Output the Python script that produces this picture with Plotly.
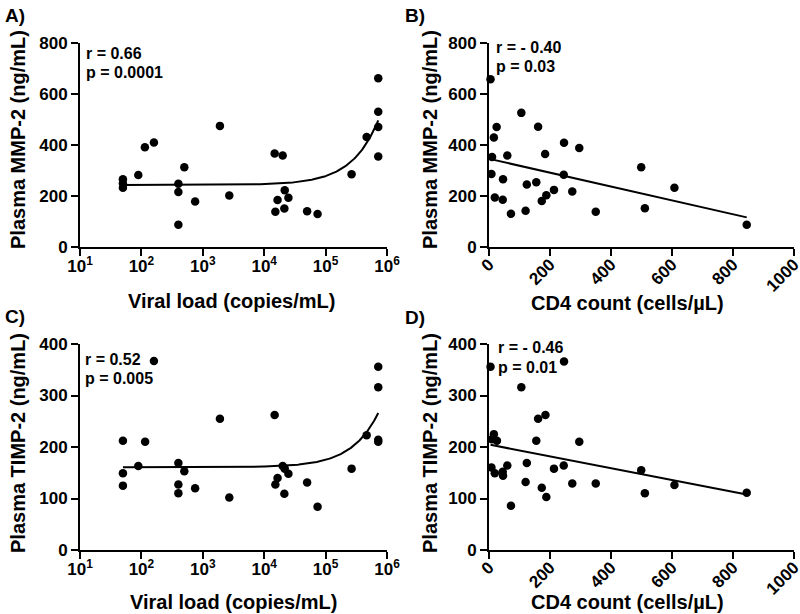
import numpy as np
import plotly.graph_objects as go

# ---------------- data ----------------
# Panel A: viral load vs plasma MMP-2
a_viral_load = [50, 50, 50, 89, 114, 160, 400, 400, 400, 500, 750, 1900, 2700,
                14800, 20000, 15200, 16500, 21600, 21300, 24800, 50000, 74000,
                265000, 466000, 720000, 720000, 720000, 720000]
a_mmp2 = [266, 249, 232, 282, 391, 410, 248, 216, 87, 313, 178, 475, 202,
          367, 359, 138, 184, 223, 151, 193, 140, 129,
          285, 431, 662, 530, 471, 355]

# Panel B: CD4 count vs plasma MMP-2
b_cd4 = [5, 106, 25, 161, 16, 246, 296, 10, 60, 184, 499, 8, 245, 46,
         155, 124, 213, 273, 608, 19, 45, 188, 173, 72, 120, 350, 511, 845]
b_mmp2 = [658, 526, 471, 472, 429, 409, 388, 353, 359, 365, 313, 286, 283, 266,
          254, 245, 224, 218, 232, 194, 185, 203, 180, 130, 142, 138, 152, 87]

# Panel C: viral load vs plasma TIMP-2
c_viral_load = [160, 50, 50, 50, 89, 115, 400, 400, 400, 500, 750, 1900, 2700,
                14800, 20000, 16500, 15200, 24800, 21300, 21600, 50000, 74000,
                265000, 466000, 720000, 720000, 720000, 720000]
c_timp2 = [367, 212, 149, 125, 163, 210, 169, 127, 110, 153, 120, 255, 102,
           262, 163, 140, 127, 148, 109, 158, 131, 84,
           158, 223, 356, 316, 214, 210]

# Panel D: CD4 count vs plasma TIMP-2
d_cd4 = [5, 106, 246, 161, 185, 16, 10, 26, 155, 296, 8, 19, 46, 45,
         60, 124, 213, 245, 499, 120, 173, 188, 273, 350, 608, 511, 72, 845]
d_timp2 = [356, 316, 366, 255, 262, 225, 215, 212, 212, 210, 160, 149, 144, 152,
           164, 169, 158, 164, 155, 132, 121, 103, 129, 129, 126, 110, 86, 111]

stats_text = {
    "A": ["r = 0.66", "p = 0.0001"],
    "B": ["r = - 0.40", "p = 0.03"],
    "C": ["r = 0.52", "p = 0.005"],
    "D": ["r = - 0.46", "p = 0.01"],
}
vl_tickvals = [10, 100, 1000, 10000, 100000, 1000000]
vl_ticktext = ["10<sup>1</sup>", "10<sup>2</sup>", "10<sup>3</sup>",
               "10<sup>4</sup>", "10<sup>5</sup>", "10<sup>6</sup>"]
cd4_tickvals = [0, 200, 400, 600, 800, 1000]
mmp_tickvals = [0, 200, 400, 600, 800]
timp_tickvals = [0, 100, 200, 300, 400]

# ---------------- figure ----------------
W, H = 800, 614
FONT = "Liberation Sans"

def px(x):
    return x / W

def py(y):
    return 1 - y / H

fig = go.Figure()

panels = [
    ("A", a_viral_load, a_mmp2, True, "x", "y"),
    ("B", b_cd4, b_mmp2, False, "x2", "y2"),
    ("C", c_viral_load, c_timp2, True, "x3", "y3"),
    ("D", d_cd4, d_timp2, False, "x4", "y4"),
]

for key, xs, ys, logx, xa, ya in panels:
    xs_arr = np.array(xs, dtype=float)
    ys_arr = np.array(ys, dtype=float)
    # linear regression (fit on linear x scale)
    slope, intercept = np.polyfit(xs_arr, ys_arr, 1)
    if logx:
        xf = np.geomspace(xs_arr.min(), xs_arr.max(), 300)
    else:
        xf = np.linspace(xs_arr.min(), xs_arr.max(), 2)
    yf = intercept + slope * xf
    fig.add_trace(go.Scatter(x=xf, y=yf, mode="lines",
                             line=dict(color="black", width=2),
                             xaxis=xa, yaxis=ya, showlegend=False,
                             hoverinfo="skip", cliponaxis=False))
    fig.add_trace(go.Scatter(x=xs, y=ys, mode="markers",
                             marker=dict(color="black", size=8.5),
                             xaxis=xa, yaxis=ya, showlegend=False,
                             cliponaxis=False))

axis_common = dict(showline=True, linecolor="black", linewidth=2,
                   ticks="outside", ticklen=7, tickwidth=2, tickcolor="black",
                   showgrid=False, zeroline=False, automargin=False,
                   ticklabeloverflow="allow",
                   tickfont=dict(family=FONT, size=17, color="black", weight="bold"))

xdomA = [px(80), px(387)]
xdomB = [px(489), px(794)]
ydomTop = [py(247), py(43)]
ydomBot = [py(550), py(344)]

fig.update_layout(
    width=W, height=H,
    autosize=False,
    margin=dict(l=0, r=0, t=0, b=0, pad=0, autoexpand=False),
    paper_bgcolor="white", plot_bgcolor="white",
    showlegend=False,
    xaxis=dict(domain=xdomA, type="log", range=[1, 6], tickvals=vl_tickvals,
               ticktext=vl_ticktext, anchor="y", ticklabelstandoff=-4, **axis_common),
    yaxis=dict(domain=ydomTop, range=[0, 800], tickvals=mmp_tickvals,
               anchor="x", **axis_common),
    xaxis2=dict(domain=xdomB, range=[0, 1000], tickvals=cd4_tickvals,
                tickangle=-45, anchor="y2", ticklabelstandoff=-8, **axis_common),
    yaxis2=dict(domain=ydomTop, range=[0, 800], tickvals=mmp_tickvals,
                anchor="x2", **axis_common),
    xaxis3=dict(domain=xdomA, type="log", range=[1, 6], tickvals=vl_tickvals,
                ticktext=vl_ticktext, anchor="y3", ticklabelstandoff=-4, **axis_common),
    yaxis3=dict(domain=ydomBot, range=[0, 400], tickvals=timp_tickvals,
                anchor="x3", **axis_common),
    xaxis4=dict(domain=xdomB, range=[0, 1000], tickvals=cd4_tickvals,
                tickangle=-45, anchor="y4", ticklabelstandoff=-8, **axis_common),
    yaxis4=dict(domain=ydomBot, range=[0, 400], tickvals=timp_tickvals,
                anchor="x4", **axis_common),
)

def add_text(text, x, y, size, xanchor="center", angle=0):
    fig.add_annotation(text=text, x=px(x), y=py(y), xref="paper", yref="paper",
                       showarrow=False, xanchor=xanchor, yanchor="middle",
                       textangle=angle,
                       font=dict(family=FONT, size=size, color="black", weight="bold"))

# panel letters
add_text("A)", 3, 15, 19, xanchor="left")
add_text("B)", 403, 15, 19, xanchor="left")
add_text("C)", 3, 316, 19, xanchor="left")
add_text("D)", 403, 317, 19, xanchor="left")

# axis titles
add_text("Viral load (copies/mL)", 232, 301, 20)
add_text("CD4 count (cells/µL)", 627, 303, 20)
add_text("Viral load (copies/mL)", 233, 602, 20)
add_text("CD4 count (cells/µL)", 627, 602, 20)
add_text("Plasma MMP-2 (ng/mL)", 18, 140, 20, angle=-90)
add_text("Plasma MMP-2 (ng/mL)", 430, 140, 20, angle=-90)
add_text("Plasma TIMP-2 (ng/mL)", 18, 443, 20, angle=-90)
add_text("Plasma TIMP-2 (ng/mL)", 430, 443, 20, angle=-90)

# statistics
stat_pos = {"A": (84, 53, 72), "B": (494, 47, 66), "C": (83, 359, 378), "D": (496, 347, 367)}
for key, (x0, y1, y2) in stat_pos.items():
    add_text(stats_text[key][0], x0, y1, 16, xanchor="left")
    add_text(stats_text[key][1], x0, y2, 16, xanchor="left")

# remove the default page margin so the 800x614 figure fills the window exactly
fig.write_html("out.html",
               config={"displayModeBar": False},
               post_script="document.body.style.margin='0px';"
                           "document.body.style.overflow='hidden';")
